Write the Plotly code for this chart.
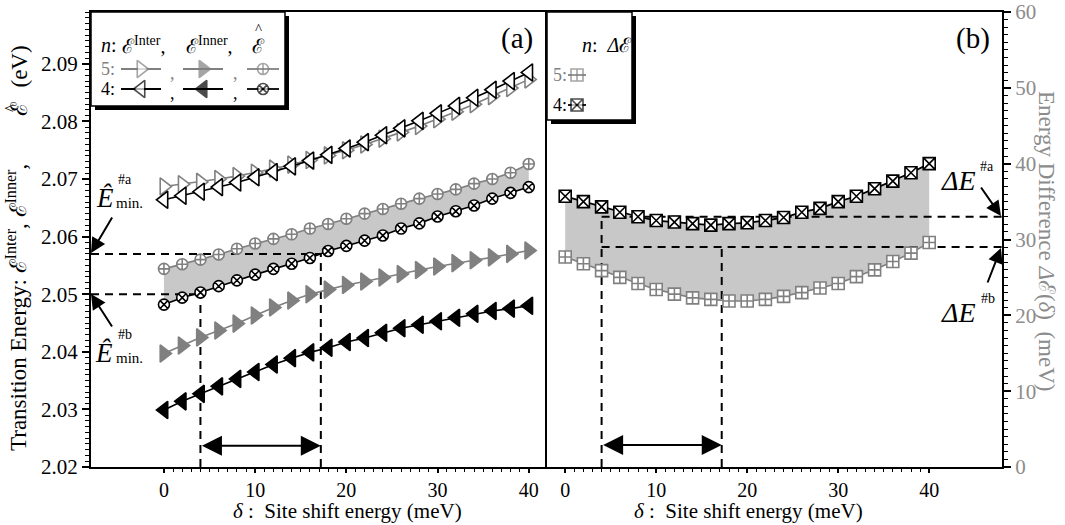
import plotly.graph_objects as go

# ---------------- data ----------------
delta = [0, 2, 4, 6, 8, 10, 12, 14, 16, 18, 20, 22, 24, 26, 28, 30, 32, 34, 36, 38, 40]

inter_n5 = [2.0687, 2.0691, 2.0695, 2.0700, 2.0705, 2.0711, 2.0718, 2.0725, 2.0733, 2.0741, 2.0750,
            2.0760, 2.0770, 2.0781, 2.0792, 2.0804, 2.0817, 2.0830, 2.0844, 2.0858, 2.0873]
inter_n4 = [2.0664, 2.0671, 2.0678, 2.0686, 2.0694, 2.0703, 2.0712, 2.0722, 2.0732, 2.0742, 2.0753,
            2.0764, 2.0776, 2.0788, 2.0801, 2.0814, 2.0827, 2.0841, 2.0855, 2.0870, 2.0885]
inner_n5 = [2.0397, 2.0411, 2.0425, 2.0437, 2.0449, 2.0463, 2.0477, 2.0489, 2.0500, 2.0508, 2.0516,
            2.0522, 2.0529, 2.0535, 2.0542, 2.0548, 2.0554, 2.0559, 2.0564, 2.0570, 2.0576]
inner_n4 = [2.0299, 2.0314, 2.0327, 2.0340, 2.0353, 2.0365, 2.0378, 2.0389, 2.0399, 2.0407, 2.0417,
            2.0424, 2.0433, 2.0441, 2.0447, 2.0453, 2.0459, 2.0466, 2.0471, 2.0475, 2.0480]
hat_n5 = [2.0544, 2.0552, 2.0560, 2.0569, 2.0579, 2.0588, 2.0596, 2.0604, 2.0614, 2.0622, 2.0631,
          2.0640, 2.0648, 2.0657, 2.0666, 2.0674, 2.0682, 2.0692, 2.0700, 2.0711, 2.0726]
hat_n4 = [2.0482, 2.0494, 2.0503, 2.0514, 2.0524, 2.0534, 2.0544, 2.0553, 2.0563, 2.0575, 2.0584,
          2.0593, 2.0602, 2.0614, 2.0623, 2.0635, 2.0644, 2.0654, 2.0666, 2.0676, 2.0686]
dE_n5 = [27.7, 26.8, 25.9, 25.0, 24.2, 23.4, 22.8, 22.3, 22.1, 21.9, 21.9,
         22.1, 22.5, 23.0, 23.6, 24.2, 25.1, 26.0, 27.1, 28.2, 29.6]
dE_n4 = [35.7, 35.0, 34.3, 33.6, 33.0, 32.5, 32.3, 32.1, 31.9, 32.1, 32.2,
         32.5, 32.9, 33.6, 34.1, 35.0, 35.7, 36.7, 37.7, 38.8, 40.0]

x_ticks = [0, 10, 20, 30, 40]
y1_ticks = [2.02, 2.03, 2.04, 2.05, 2.06, 2.07, 2.08, 2.09]
y2_ticks = [0, 10, 20, 30, 40, 50, 60]

# reference marks
delta_a = 4.0
delta_b = 17.2
E_min_a = 2.057
E_min_b = 2.050
dE_a = 33.0
dE_b = 29.0

# ---------------- style / layout ----------------
W, H = 1065, 525
ML, MR, MT, MB = 91, 63, 12, 58
PW, PH = W - ML - MR, H - MT - MB
X1_RANGE = [-8, 42]
X2_RANGE = [-2, 48]
Y1_RANGE = [2.02, 2.099]
Y2_RANGE = [0, 60]
SPLIT = (547 - ML) / PW

FONT = "Liberation Serif"
GRAY = "#808080"
LGRAY = "#8c8c8c"
FILL = "rgb(200,200,200)"
TICKF = 21
XTICKF = 20

def PX(px):
    return (px - ML) / PW

def PY(py):
    return (H - MB - py) / PH

fig = go.Figure()

def fill_between(xs, upper, lower, xa, ya):
    fig.add_trace(go.Scatter(x=list(xs) + list(xs)[::-1], y=list(upper) + list(lower)[::-1],
                             fill="toself", fillcolor=FILL, mode="lines", line=dict(width=0),
                             xaxis=xa, yaxis=ya, hoverinfo="skip", showlegend=False))

def dashed(xs, ys, xa, ya):
    fig.add_trace(go.Scatter(x=xs, y=ys, mode="lines", xaxis=xa, yaxis=ya,
                             line=dict(color="black", width=2, dash="8px,6px"),
                             hoverinfo="skip", showlegend=False, cliponaxis=False))

def series(ys, xa, ya, color, symbol, mfill, size, lw=1.6):
    fig.add_trace(go.Scatter(x=delta, y=ys, mode="lines+markers", xaxis=xa, yaxis=ya,
                             line=dict(color=color, width=lw),
                             marker=dict(symbol=symbol, size=size, color=mfill,
                                         line=dict(color=color, width=1.6)),
                             showlegend=False, cliponaxis=False))

# ----- panel (a)
fill_between(delta, hat_n5, hat_n4, "x", "y")
dashed([X1_RANGE[0], delta_b], [E_min_a, E_min_a], "x", "y")
dashed([X1_RANGE[0], delta_a], [E_min_b, E_min_b], "x", "y")
dashed([delta_a, delta_a], [Y1_RANGE[0], E_min_b], "x", "y")
dashed([delta_b, delta_b], [Y1_RANGE[0], E_min_a], "x", "y")
series(inter_n5, "x", "y", GRAY, "triangle-right", "white", 15)
series(inter_n4, "x", "y", "black", "triangle-left", "white", 15)
series(inner_n5, "x", "y", GRAY, "triangle-right", GRAY, 15)
series(inner_n4, "x", "y", "black", "triangle-left", "black", 15)
series(hat_n5, "x", "y", GRAY, "circle-cross", "white", 11)
series(hat_n4, "x", "y", "black", "circle-x", "white", 11)

# ----- panel (b)
fill_between(delta, dE_n4, dE_n5, "x2", "y2")
dashed([delta_a, X2_RANGE[1]], [dE_a, dE_a], "x2", "y2")
dashed([delta_a, X2_RANGE[1]], [dE_b, dE_b], "x2", "y2")
dashed([delta_a, delta_a], [Y2_RANGE[0], dE_a], "x2", "y2")
dashed([delta_b, delta_b], [Y2_RANGE[0], dE_b], "x2", "y2")
series(dE_n5, "x2", "y2", GRAY, "square-cross", "white", 12)
series(dE_n4, "x2", "y2", "black", "square-x", "white", 12, lw=1.8)

# ----- legends (overlay axis x3/y3 is in figure pixels)
shapes = []
def legend_box(x0, y0, x1, y1):
    shapes.append(dict(type="rect", xref="x3", yref="y3", x0=x0 + 4, y0=y0 + 4, x1=x1 + 4, y1=y1 + 4,
                       fillcolor="black", line=dict(width=0), layer="below"))
    shapes.append(dict(type="rect", xref="x3", yref="y3", x0=x0, y0=y0, x1=x1, y1=y1,
                       fillcolor="white", line=dict(color="black", width=1.5), layer="below"))

legend_box(ML, MT, 285, 106)
legend_box(547, MT, 632, 120)

def sample(xc, yc, half, color, symbol, mfill, size):
    fig.add_trace(go.Scatter(x=[xc - half, xc, xc + half], y=[yc, yc, yc], mode="lines+markers",
                             xaxis="x3", yaxis="y3", line=dict(color=color, width=1.8),
                             marker=dict(symbol=symbol, size=[0, size, 0], color=mfill,
                                         line=dict(color=color, width=1.6)),
                             hoverinfo="skip", showlegend=False, cliponaxis=False))

R1, R2, R3 = 45, 69, 89
sample(141, R2, 20, GRAY, "triangle-right", "white", 15)
sample(203, R2, 20, GRAY, "triangle-right", GRAY, 15)
sample(263, R2, 16, GRAY, "circle-cross", "white", 11)
sample(141, R3, 20, "black", "triangle-left", "white", 15)
sample(203, R3, 20, "black", "triangle-left", "black", 15)
sample(263, R3, 16, "black", "circle-x", "white", 11)
sample(577, 75, 9, GRAY, "square-cross", "white", 12)
sample(577, 105, 9, "black", "square-x", "white", 12)

ann = []
def txt(x, y, s, size=20, color="black", xanchor="center", yanchor="middle", angle=0):
    ann.append(dict(x=PX(x), y=PY(y), xref="paper", yref="paper", text=s, showarrow=False,
                    xanchor=xanchor, yanchor=yanchor, textangle=angle,
                    font=dict(family=FONT, size=size, color=color)))

SC = "ℰ"
# left legend texts
txt(99, R1, "<i>n</i>:", size=20, xanchor="left")
txt(120, R1, SC + "<sup>Inter</sup>,", size=20, xanchor="left")
txt(184, R1, SC + "<sup>Inner</sup>,", size=20, xanchor="left")
txt(258, R1 + 1, SC, size=20)
txt(258, R1 - 16, "^", size=15)
txt(99, R2, "5:", size=18, color=GRAY, xanchor="left")
txt(99, R3, "4:", size=18, xanchor="left")
for cx in (172, 235):
    txt(cx, R2 + 4, ",", size=18, color=GRAY)
    txt(cx, R3 + 4, ",", size=18)
# right legend texts
txt(580, R1, "<i>n</i>:  <i>Δ</i>" + SC, size=20, xanchor="left")
txt(551, 75, "5:", size=18, color=GRAY, xanchor="left")
txt(551, 105, "4:", size=18, xanchor="left")

# panel labels
txt(517, 38, "(a)", size=29)
txt(973, 38, "(b)", size=29)

# axis titles
for xc in (347, 748):
    txt(xc, 511, "<i>δ</i> :  Site shift energy (meV)", size=21)
txt(33, 453, "Transition Energy: " + SC + "<sup>Inter</sup>, " + SC + "<sup>Inner</sup>,",
    size=23, angle=-90, xanchor="right", yanchor="bottom")
txt(33, 108, SC, size=23, angle=-90, xanchor="right")
txt(10, 108, "^", size=16, angle=-90)
txt(33, 67, "(eV)", size=23, angle=-90, xanchor="right")
txt(1047, 241, "Energy Difference <i>Δ</i>" + SC + "(<i>δ</i>)  (meV)", size=23, color=LGRAY, angle=90)

# E-hat min labels
txt(105, 198, "<i>Ê</i>", size=27)
txt(116, 179, "#a", size=14, xanchor="left")
txt(114, 203, "min.", size=15, xanchor="left")
txt(104, 353, "<i>Ê</i>", size=27)
txt(116, 335, "#b", size=14, xanchor="left")
txt(114, 358, "min.", size=15, xanchor="left")
# Delta E labels
txt(958, 180, "<i>ΔE</i>", size=28)
txt(978, 166, "#a", size=14, xanchor="left")
txt(958, 312, "<i>ΔE</i>", size=28)
txt(979, 298, "#b", size=14, xanchor="left")

def arrow(x, y, ax, ay, xref="x3", yref="y3", both=False, size=1.5):
    ann.append(dict(x=x, y=y, ax=ax, ay=ay, xref=xref, yref=yref, axref=xref, ayref=yref,
                    text="", showarrow=True, arrowhead=2, arrowsize=size, arrowwidth=2,
                    arrowcolor="black", arrowside="end+start" if both else "end", standoff=0,
                    startstandoff=0))

arrow(91, 253, 113, 216)
arrow(91, 294, 113, 328)
arrow(1001, 216, 980, 186)
arrow(1001, 248, 987, 284)
arrow(delta_b, 2.0237, delta_a, 2.0237, xref="x", yref="y", both=True, size=2.0)
arrow(delta_b, 2.9, delta_a, 2.9, xref="x2", yref="y2", both=True, size=2.0)

axis_common = dict(showline=True, linecolor="black", linewidth=2, mirror=True, ticks="outside",
                   ticklen=6, tickwidth=1.5, tickcolor="black", showgrid=False, zeroline=False,
                   automargin=False, tickfont=dict(family=FONT, size=TICKF, color="black"))
xtickfont = dict(family=FONT, size=XTICKF, color="black")

minor_x = dict(ticks="outside", ticklen=3, tickwidth=1.2, tickcolor="black", showgrid=False,
               tickvals=list(range(0, 41)))

fig.update_layout(
    width=W, height=H, margin=dict(l=ML, r=MR, t=MT, b=MB, autoexpand=False),
    paper_bgcolor="white", plot_bgcolor="rgba(0,0,0,0)",
    font=dict(family=FONT),
    showlegend=False, shapes=shapes, annotations=ann,
    xaxis=dict(axis_common, domain=[0, SPLIT], range=X1_RANGE, tickvals=x_ticks, minor=minor_x,
               anchor="y", tickfont=xtickfont, ticklen=4),
    yaxis=dict(axis_common, range=Y1_RANGE, tickvals=y1_ticks, tickformat=".2f", anchor="x",
               mirror=False, ticklen=7,
               minor=dict(ticks="outside", ticklen=4, tickwidth=1.2, tickcolor="black",
                          dtick=0.001, tick0=2.02, showgrid=False)),
    xaxis2=dict(axis_common, domain=[SPLIT, 1], range=X2_RANGE, tickvals=x_ticks, minor=minor_x,
                anchor="y2", tickfont=xtickfont, ticklen=4),
    yaxis2=dict(axis_common, range=Y2_RANGE, tickvals=y2_ticks, side="right", anchor="x2",
                ticklen=7, tickfont=dict(family=FONT, size=TICKF, color=LGRAY),
                minor=dict(ticks="outside", ticklen=4, tickwidth=1.2, tickcolor="black",
                           dtick=1, tick0=0, showgrid=False)),
    xaxis3=dict(domain=[0, 1], range=[ML, W - MR], visible=False, fixedrange=True, anchor="y3",
                automargin=False),
    yaxis3=dict(domain=[0, 1], range=[H - MB, MT], visible=False, fixedrange=True, anchor="x3",
                automargin=False),
)

fig.write_html("out.html", config={"displayModeBar": False},
               post_script="document.body.style.margin='0px';")
